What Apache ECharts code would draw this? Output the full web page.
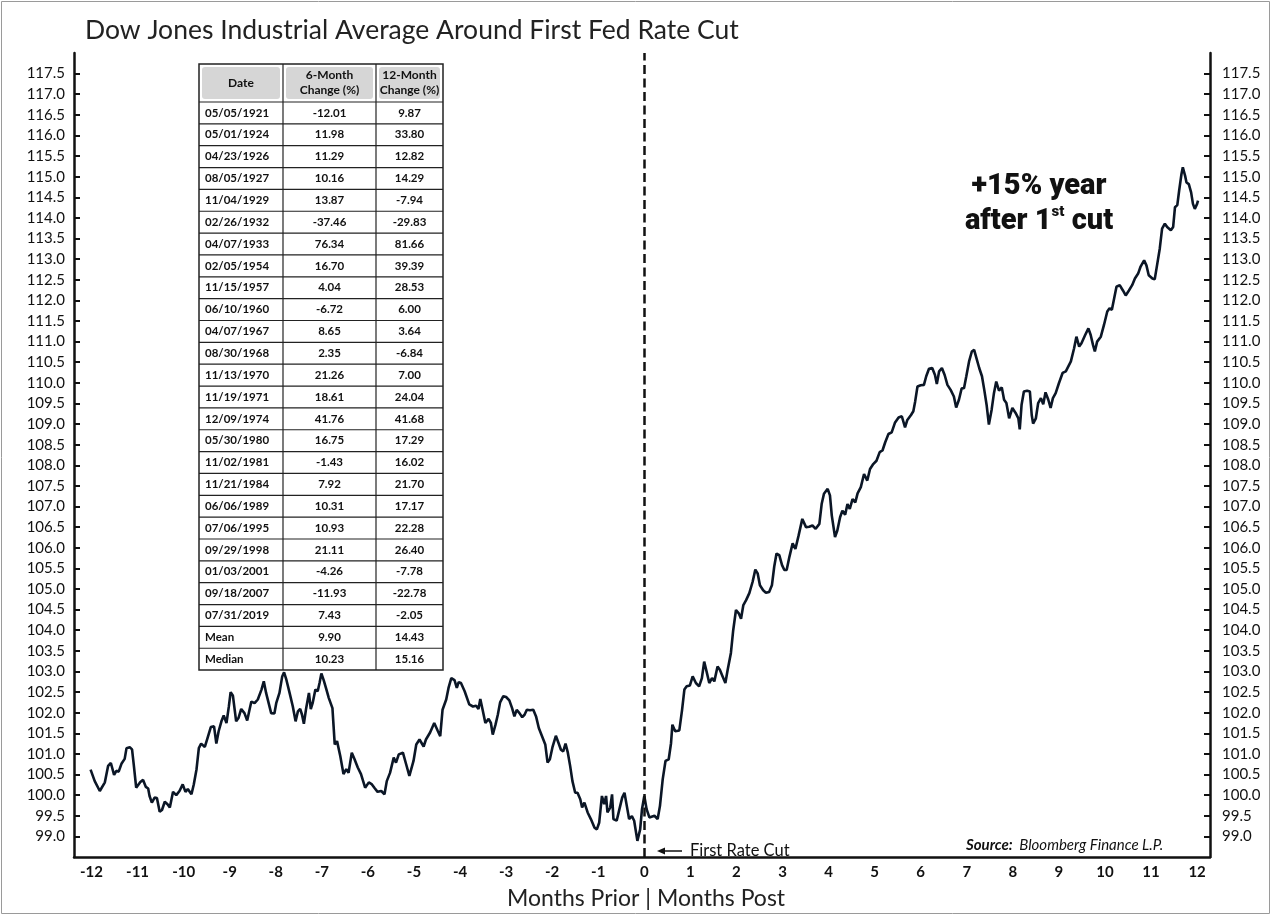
<!DOCTYPE html>
<html><head><meta charset="utf-8">
<script src="https://cdn.jsdelivr.net/npm/echarts@6/dist/echarts.min.js"></script>
<style>html,body{margin:0;padding:0;background:#fff}#c{width:1271px;height:915px}</style>
</head><body><div id="c"></div>
<script>
// ---- Data: Dow Jones index (rebased 100 at first cut) vs months relative to first Fed rate cut
const months = [
-12.02,-11.93,-11.82,-11.71,-11.64,-11.58,-11.51,-11.46,-11.41,-11.35,-11.28,-11.24,-11.17,-11.12,-11.08,-11.03,-10.99,-10.94,-10.88,-10.82,-10.77,-10.74,-10.69,-10.63,-10.58,-10.52,-10.47,-10.41,-10.35,-10.30,-10.23,-10.16,-10.09,-10.02,-9.96,-9.91,-9.83,-9.78,-9.72,-9.67,-9.62,-9.54,-9.48,-9.41,-9.34,-9.29,-9.24,-9.18,-9.13,-9.07,-9.02,-8.98,-8.93,-8.86,-8.81,-8.75,-8.68,-8.62,-8.57,-8.53,-8.46,-8.39,-8.31,-8.26,-8.21,-8.10,-8.03,
-7.99,-7.92,-7.86,-7.82,-7.77,-7.70,-7.63,-7.57,-7.52,-7.47,-7.43,-7.39,-7.34,-7.28,-7.24,-7.20,-7.14,-7.09,-7.05,-7.01,-6.96,-6.90,-6.85,-6.77,-6.72,-6.67,-6.60,-6.53,-6.47,-6.42,-6.35,-6.29,-6.22,-6.15,-6.06,-5.98,-5.92,-5.86,-5.79,-5.71,-5.64,-5.59,-5.52,-5.44,-5.39,-5.33,-5.24,-5.17,-5.10,-5.01,-4.95,-4.88,-4.79,-4.74,-4.65,-4.56,-4.48,-4.43,-4.38,-4.30,-4.25,-4.19,-4.12,-4.07,-4.03,-3.98,-3.90,-3.80,
-3.72,-3.65,-3.60,-3.56,-3.51,-3.45,-3.38,-3.33,-3.29,-3.23,-3.18,-3.13,-3.06,-3.00,-2.93,-2.87,-2.82,-2.77,-2.71,-2.65,-2.60,-2.55,-2.48,-2.41,-2.35,-2.29,-2.22,-2.15,-2.10,-2.05,-1.99,-1.92,-1.86,-1.81,-1.76,-1.71,-1.66,-1.61,-1.56,-1.50,-1.45,-1.39,-1.35,-1.30,-1.23,-1.16,-1.08,-1.03,-0.98,-0.92,-0.87,-0.83,-0.80,-0.74,-0.70,-0.67,-0.60,-0.54,-0.48,-0.43,-0.38,-0.33,-0.27,-0.22,-0.15,-0.09,-0.05,0.00,0.05,0.11,
0.15,0.22,0.29,0.34,0.40,0.46,0.53,0.58,0.61,0.67,0.76,0.82,0.87,0.92,0.99,1.05,1.12,1.19,1.25,1.30,1.36,1.41,1.47,1.52,1.59,1.64,1.70,1.76,1.81,1.88,1.93,1.99,2.05,2.10,2.15,2.21,2.28,2.35,2.41,2.46,2.51,2.58,2.64,2.71,2.77,2.82,2.87,2.93,2.99,3.04,3.09,3.15,3.22,3.28,3.35,3.43,3.51,3.58,3.65,3.72,3.80,3.85,3.90,3.98,4.03,4.07,4.14,4.19,4.25,4.30,4.36,4.41,4.46,
4.52,4.58,4.63,4.70,4.77,4.84,4.90,4.97,5.04,5.11,5.17,5.23,5.30,5.37,5.44,5.52,5.59,5.66,5.71,5.79,5.84,5.88,5.93,6.00,6.07,6.12,6.18,6.25,6.31,6.35,6.40,6.46,6.52,6.58,6.65,6.72,6.77,6.83,6.89,6.94,6.99,7.05,7.11,7.16,7.21,7.27,7.33,7.38,7.43,7.48,7.54,7.59,7.64,7.70,7.76,7.81,7.86,7.92,7.99,8.06,8.12,8.15,8.19,8.24,8.31,8.37,8.41,8.44,8.50,8.55,8.61,8.66,8.71,8.77,8.82,8.87,8.93,9.00,9.08,9.15,
9.18,9.26,9.33,9.38,9.44,9.49,9.57,9.64,9.69,9.74,9.78,9.83,9.91,9.98,10.05,10.10,10.15,10.20,10.25,10.32,10.39,10.45,10.52,10.59,10.65,10.72,10.77,10.85,10.90,10.95,11.03,11.08,11.13,11.19,11.24,11.30,11.35,11.43,11.48,11.52,11.57,11.61,11.66,11.69,11.74,11.77,11.82,11.87,11.91,11.95,12.00,12.02
];
const dowIndex = [
100.62,100.34,100.10,100.31,100.71,100.78,100.49,100.59,100.57,100.76,100.88,101.14,101.16,101.11,100.71,100.18,100.15,100.32,100.37,100.20,100.16,99.98,99.82,99.94,99.93,99.60,99.64,99.84,99.78,99.70,100.08,100.00,100.10,100.26,100.08,100.15,100.02,100.26,100.63,101.14,101.25,101.17,101.39,101.65,101.67,101.25,101.55,101.79,101.93,101.75,102.14,102.50,102.41,101.79,101.87,102.09,101.99,101.81,102.07,102.27,102.23,102.32,102.56,102.76,102.48,101.99,101.98,
102.23,102.48,102.88,102.98,102.80,102.48,102.15,101.79,102.03,102.09,101.95,101.73,102.11,102.48,102.09,102.23,102.56,102.52,102.72,102.95,102.79,102.56,102.36,102.11,101.23,101.31,100.95,100.51,100.63,100.54,101.03,100.87,100.67,100.51,100.18,100.31,100.27,100.18,100.08,100.10,100.02,100.34,100.54,100.91,100.79,100.99,101.03,100.75,100.47,100.83,101.23,101.35,101.18,101.35,101.52,101.75,101.55,101.43,102.07,102.32,102.60,102.84,102.79,102.60,102.74,102.72,102.52,102.20,
102.15,102.17,102.09,102.33,102.07,101.75,101.85,101.75,101.47,101.71,101.95,102.25,102.40,102.38,102.30,102.11,101.91,102.07,101.99,101.89,101.95,102.07,102.06,102.07,101.91,101.63,101.43,101.23,100.79,100.87,101.18,101.44,101.26,101.10,101.06,101.25,101.03,100.71,100.34,100.06,100.06,99.90,99.70,99.82,99.58,99.42,99.21,99.17,99.33,99.98,99.78,99.98,99.58,99.70,100.02,99.42,99.38,99.66,99.94,100.06,99.74,99.42,99.49,99.38,98.89,99.17,99.66,99.98,99.66,99.46,
99.46,99.50,99.42,99.74,100.39,100.83,100.87,101.26,101.71,101.55,101.57,102.07,102.56,102.64,102.66,102.88,102.72,102.64,102.84,103.24,102.96,102.72,102.84,102.76,103.12,103.04,102.88,102.72,103.04,103.45,104.00,104.49,104.41,104.28,104.61,104.73,104.90,105.17,105.47,105.38,105.09,104.97,104.91,104.93,105.09,105.54,105.86,105.82,105.58,105.46,105.46,105.78,106.11,105.97,106.30,106.70,106.50,106.51,106.54,106.46,106.58,107.06,107.31,107.43,107.27,106.78,106.26,106.42,106.74,106.90,106.80,107.06,106.94,
107.18,107.10,107.32,107.47,107.79,107.63,107.91,108.03,108.11,108.32,108.36,108.56,108.76,108.80,109.03,109.16,109.19,108.92,109.10,109.22,109.31,109.55,109.91,109.94,109.95,110.16,110.34,110.36,110.19,109.97,110.28,110.36,110.19,109.95,109.83,109.67,109.40,109.59,109.87,109.87,110.16,110.52,110.76,110.80,110.60,110.36,110.16,109.83,109.47,108.99,109.35,109.75,110.03,109.81,109.89,109.59,109.51,109.14,109.39,109.27,109.14,108.87,109.47,109.79,109.81,109.79,109.22,109.01,109.14,109.51,109.63,109.48,109.77,109.59,109.39,109.63,109.75,109.99,110.24,110.28,
110.24,110.52,110.84,111.12,110.88,110.96,111.16,111.32,111.16,110.92,110.76,111.00,111.12,111.41,111.73,111.81,111.77,112.05,112.33,112.37,112.24,112.12,112.24,112.37,112.53,112.65,112.81,112.97,112.85,112.61,112.53,112.51,112.85,113.26,113.74,113.86,113.78,113.70,113.78,114.26,114.31,114.66,115.06,115.23,115.02,114.86,114.82,114.62,114.34,114.22,114.34,114.42
];
const xTickLabels = [-12,-11,-10,-9,-8,-7,-6,-5,-4,-3,-2,-1,0,1,2,3,4,5,6,7,8,9,10,11,12];
const yTickLabels = [99.0,99.5,100.0,100.5,101.0,101.5,102.0,102.5,103.0,103.5,104.0,104.5,105.0,105.5,106.0,106.5,107.0,107.5,108.0,108.5,109.0,109.5,110.0,110.5,111.0,111.5,112.0,112.5,113.0,113.5,114.0,114.5,115.0,115.5,116.0,116.5,117.0,117.5];
const firstCutMonth = 0;

// ---- Table data
const tableHeaders = ['Date', '6-Month\nChange (%)', '12-Month\nChange (%)'];
const cutDates = ['05/05/1921','05/01/1924','04/23/1926','08/05/1927','11/04/1929','02/26/1932','04/07/1933','02/05/1954','11/15/1957','06/10/1960','04/07/1967','08/30/1968','11/13/1970','11/19/1971','12/09/1974','05/30/1980','11/02/1981','11/21/1984','06/06/1989','07/06/1995','09/29/1998','01/03/2001','09/18/2007','07/31/2019','Mean','Median'];
const sixMonthChange = [-12.01,11.98,11.29,10.16,13.87,-37.46,76.34,16.70,4.04,-6.72,8.65,2.35,21.26,18.61,41.76,16.75,-1.43,7.92,10.31,10.93,21.11,-4.26,-11.93,7.43,9.90,10.23];
const twelveMonthChange = [9.87,33.80,12.82,14.29,-7.94,-29.83,81.66,39.39,28.53,6.00,3.64,-6.84,7.00,24.04,41.68,17.29,16.02,21.70,17.17,22.28,26.40,-7.78,-22.78,-2.05,14.43,15.16];

const FONT = 'Lato, "Open Sans", sans-serif';
const Y_MIN = 98.5, Y_MAX = 118;
const seriesData = months.map((m, i) => [m, dowIndex[i]]);

// ---- Table graphic
function buildTable() {
  const tX = 199, tY = 64, colW = [84, 93, 67], headH = 38, rowH = 21.85;
  const totalW = colW.reduce((a, b) => a + b, 0);
  const totalH = headH + rowH * cutDates.length;
  const els = [];
  let cx = tX;
  colW.forEach((w, i) => {
    els.push({ type: 'rect', shape: { x: cx + 3, y: tY + 3, width: w - 6, height: headH - 6, r: 3 }, style: { fill: '#d6d6d6' }, silent: true });
    els.push({ type: 'text', x: cx + w / 2, y: tY + headH / 2, style: { text: tableHeaders[i], fill: '#111', fontFamily: FONT, fontWeight: 'bold', fontSize: 12, lineHeight: 15, textAlign: 'center', textVerticalAlign: 'middle' }, silent: true });
    cx += w;
  });
  for (let i = 0; i < cutDates.length; i++) {
    const y = tY + headH + i * rowH;
    els.push({ type: 'line', shape: { x1: tX, y1: y, x2: tX + totalW, y2: y }, style: { stroke: '#222', lineWidth: 1.2 }, silent: true });
    const cy = y + rowH / 2;
    els.push({ type: 'text', x: tX + 6, y: cy, style: { text: cutDates[i], fill: '#111', fontFamily: FONT, fontWeight: 'bold', fontSize: 11.5, textAlign: 'left', textVerticalAlign: 'middle' }, silent: true });
    els.push({ type: 'text', x: tX + colW[0] + colW[1] / 2, y: cy, style: { text: sixMonthChange[i].toFixed(2), fill: '#111', fontFamily: FONT, fontWeight: 'bold', fontSize: 11.5, textAlign: 'center', textVerticalAlign: 'middle' }, silent: true });
    els.push({ type: 'text', x: tX + colW[0] + colW[1] + colW[2] / 2, y: cy, style: { text: twelveMonthChange[i].toFixed(2), fill: '#111', fontFamily: FONT, fontWeight: 'bold', fontSize: 11.5, textAlign: 'center', textVerticalAlign: 'middle' }, silent: true });
  }
  els.push({ type: 'line', shape: { x1: tX + colW[0], y1: tY, x2: tX + colW[0], y2: tY + totalH }, style: { stroke: '#222', lineWidth: 1.2 }, silent: true });
  els.push({ type: 'line', shape: { x1: tX + colW[0] + colW[1], y1: tY, x2: tX + colW[0] + colW[1], y2: tY + totalH }, style: { stroke: '#222', lineWidth: 1.2 }, silent: true });
  els.push({ type: 'rect', shape: { x: tX, y: tY, width: totalW, height: totalH }, style: { fill: 'none', stroke: '#222', lineWidth: 1.5 }, silent: true });
  return els;
}

const chart = echarts.init(document.getElementById('c'), null, { renderer: 'canvas' });
const yAxisCommon = {
  type: 'value', min: Y_MIN, max: Y_MAX, interval: 0.5,
  splitLine: { show: false },
  axisLine: { show: true, onZero: false, lineStyle: { color: '#111', width: 2.5 } },
  axisTick: { show: true, inside: true, length: 6, lineStyle: { color: '#111', width: 2 } },
  axisLabel: { showMinLabel: false, showMaxLabel: false, fontSize: 15, color: '#111', fontFamily: FONT,
    formatter: v => (yTickLabels.some(t => Math.abs(t - v) < 1e-6) ? v.toFixed(1) : '') }
};
chart.setOption({
  animation: false,
  backgroundColor: '#fff',
  title: { text: 'Dow Jones Industrial Average Around First Fed Rate Cut', left: 80, top: 12,
    textStyle: { fontSize: 26.5, fontWeight: 'normal', color: '#222', fontFamily: FONT } },
  grid: { left: 74, right: 61, top: 53, bottom: 54, containLabel: false },
  xAxis: {
    type: 'value', min: -12.38, max: 12.28,
    name: 'Months Prior | Months Post', nameLocation: 'middle', nameGap: 30,
    nameTextStyle: { fontSize: 23, color: '#222', fontFamily: FONT, padding: [0, 0, 0, 8] },
    splitLine: { show: false },
    axisLine: { show: true, onZero: false, lineStyle: { color: '#111', width: 2.5 } },
    axisTick: { show: false },
    axisLabel: { customValues: xTickLabels, fontSize: 15, color: '#111', fontFamily: FONT, fontWeight: 'bold', margin: 8,
      formatter: v => String(v) }
  },
  yAxis: [
    Object.assign({}, yAxisCommon, { position: 'left', axisLabel: Object.assign({}, yAxisCommon.axisLabel, { margin: 9 }) }),
    Object.assign({}, yAxisCommon, { position: 'right', axisLabel: Object.assign({}, yAxisCommon.axisLabel, { margin: 12 }) })
  ],
  series: [{
    type: 'line', data: seriesData, yAxisIndex: 0, showSymbol: false, smooth: false,
    lineStyle: { color: '#0b1626', width: 2.6 },
    markLine: {
      silent: true, symbol: ['none', 'none'], label: { show: false },
      lineStyle: { color: '#111', type: [9, 4.5], width: 2.5 },
      emphasis: { disabled: true },
      data: [{ xAxis: firstCutMonth }]
    }
  }],
  graphic: { elements: [
    { type: 'rect', shape: { x: 1.5, y: 1.5, width: 1268, height: 912 }, style: { fill: 'none', stroke: '#9a9a9a', lineWidth: 1 }, silent: true },
    ...buildTable(),
    { type: 'line', shape: { x1: 682, y1: 851, x2: 661, y2: 851 }, style: { stroke: '#111', lineWidth: 1.5 }, silent: true },
    { type: 'polygon', shape: { points: [[657, 851], [665, 847.5], [665, 854.5]] }, style: { fill: '#111' }, silent: true },
    { type: 'text', x: 690, y: 851, style: { text: 'First Rate Cut', fill: '#111', fontFamily: FONT, fontSize: 16.5, textAlign: 'left', textVerticalAlign: 'middle' }, silent: true },
    { type: 'text', x: 966, y: 845, style: { text: '{b|Source:}  {i|Bloomberg Finance L.P.}', textAlign: 'left', textVerticalAlign: 'middle',
      rich: { b: { fontFamily: FONT, fontWeight: 'bold', fontStyle: 'italic', fontSize: 15, fill: '#111', color: '#111' },
              i: { fontFamily: FONT, fontStyle: 'italic', fontSize: 15, fill: '#111', color: '#111' } } }, silent: true },
    { type: 'text', x: 1039, y: 187, style: { text: '+15% year', fill: '#111', fontFamily: 'Roboto, sans-serif', fontWeight: 900, fontSize: 29, textAlign: 'center', textVerticalAlign: 'middle' }, silent: true },
    { type: 'text', x: 1039, y: 222, style: { text: '{a|after 1}{s|st}{a| cut}', textAlign: 'center', textVerticalAlign: 'middle',
      rich: { a: { fontFamily: 'Roboto, sans-serif', fontWeight: 900, fontSize: 29, color: '#111', fill: '#111', lineHeight: 34 },
              s: { fontFamily: 'Roboto, sans-serif', fontWeight: 900, fontSize: 15, color: '#111', fill: '#111', verticalAlign: 'top', lineHeight: 34, padding: [0, 0, 12, 0] } } }, silent: true }
  ] }
});
</script></body></html>
